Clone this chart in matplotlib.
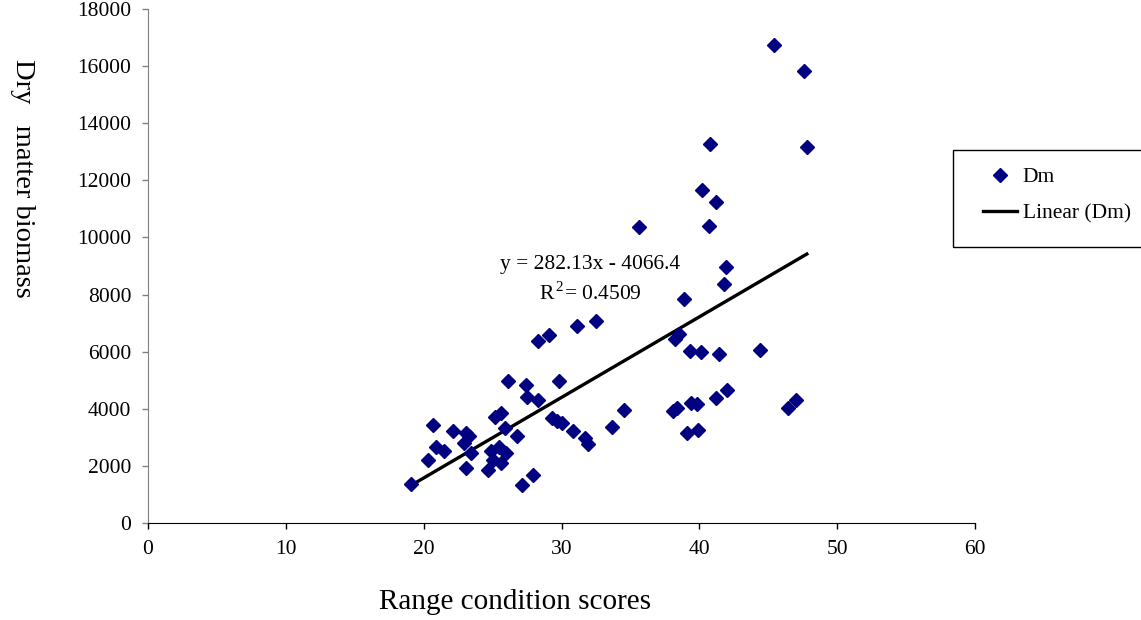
import numpy as np
import matplotlib
matplotlib.use('Agg')
import matplotlib.pyplot as plt
from matplotlib.patches import Rectangle

# Range condition scores vs dry matter biomass
score = [19.1, 20.3, 20.7, 20.9, 21.5, 22.1, 22.9, 23.1, 23.3, 23.4,
         23.1, 24.7, 24.9, 25.0, 25.2, 25.6, 25.9, 25.5, 26.0, 25.6,
         26.1, 26.8, 27.1, 27.4, 27.5, 27.9, 28.3, 28.3, 29.1, 29.3,
         29.7, 30.0, 29.8, 30.8, 31.1, 31.7, 31.9, 32.5, 33.7, 34.5,
         35.6, 38.1, 38.4, 38.2, 38.5, 38.9, 39.3, 39.1, 39.4, 39.8,
         39.9, 40.1, 40.2, 40.7, 40.8, 41.2, 41.9, 41.8, 41.4, 41.2,
         42.0, 44.4, 45.4, 46.4, 47.0, 47.6, 47.8]
biomass = [1360, 2210, 3430, 2650, 2530, 3230, 2790, 3140, 3060, 2440,
           1915, 1860, 2530, 2210, 3720, 3840, 3340, 2650, 2440, 2090,
           4970, 3050, 1330, 4830, 4420, 1680, 4310, 6360, 6590, 3690,
           3580, 3490, 4980, 3220, 6900, 2990, 2770, 7060, 3370, 3960,
           10360, 3930, 4040, 6430, 6620, 7850, 6030, 3140, 4210, 4170,
           3270, 6000, 11650, 10410, 13270, 11250, 8960, 8370, 5930, 4370,
           4660, 6060, 16730, 4020, 4310, 15840, 13180]

# trend line as printed on the chart
slope = 282.13
intercept = -4066.4
r2 = 0.4509

plt.rcParams['font.family'] = ['Liberation Serif', 'DejaVu Serif']
plt.rcParams['mathtext.fontset'] = 'custom'
plt.rcParams['mathtext.rm'] = 'Liberation Serif'

W, H = 1141, 620
fig = plt.figure(figsize=(W / 100, H / 100), dpi=100)
ax = fig.add_axes([148 / W, 1 - 523 / H, (975 - 148) / W, (523 - 9) / H])

ax.plot(score, biomass, linestyle='none', marker='D', markersize=7.3,
        color='#000080', label='Dm', zorder=3)

xs = np.array([min(score), max(score)])
ax.plot(xs, slope * xs + intercept, color='black', linewidth=2.4,
        label='Linear (Dm)', zorder=2)

ax.set_xlim(0, 60)
ax.set_ylim(0, 18000)
ax.set_xticks(range(0, 61, 10))
ax.set_yticks(range(0, 18001, 2000))
ax.tick_params(labelsize=15.5, length=4, width=1, direction='out')
ax.tick_params(axis='y', color='#808080', pad=8)
ax.tick_params(axis='x', pad=8)
for s in ['top', 'right']:
    ax.spines[s].set_visible(False)
ax.spines['left'].set_color('#808080')
ax.spines['bottom'].set_color('black')

ax.text(32.1, 9070, f'y = {slope}x - {abs(intercept)}', ha='center', va='center', fontsize=15.5)
ax.text(32.1, 8050, 'R$^{\\,2}$= ' + f'{r2}', ha='center', va='center', fontsize=15.5)

fig.text(22 / W, 1 - 178 / H, 'Dry   matter biomass', rotation=270,
         ha='center', va='center', fontsize=20.5)
fig.text(515 / W, 1 - 602 / H, 'Range condition scores',
         ha='center', va='center', fontsize=21)

# legend box (frame drawn separately, Excel-style padding)
fig.patches.append(Rectangle((953 / W, 1 - 247 / H), (1145 - 953) / W, 97 / H,
                             transform=fig.transFigure, fill=False,
                             edgecolor='black', linewidth=1))
leg = ax.legend(loc='upper left', bbox_to_anchor=(983 / W, 1 - 167 / H),
                bbox_transform=fig.transFigure, fontsize=15.5, frameon=False,
                borderpad=0, labelspacing=0.75, handlelength=1.6,
                handletextpad=0.25, borderaxespad=0)

plt.savefig('out.png', dpi=100)
plt.close()
